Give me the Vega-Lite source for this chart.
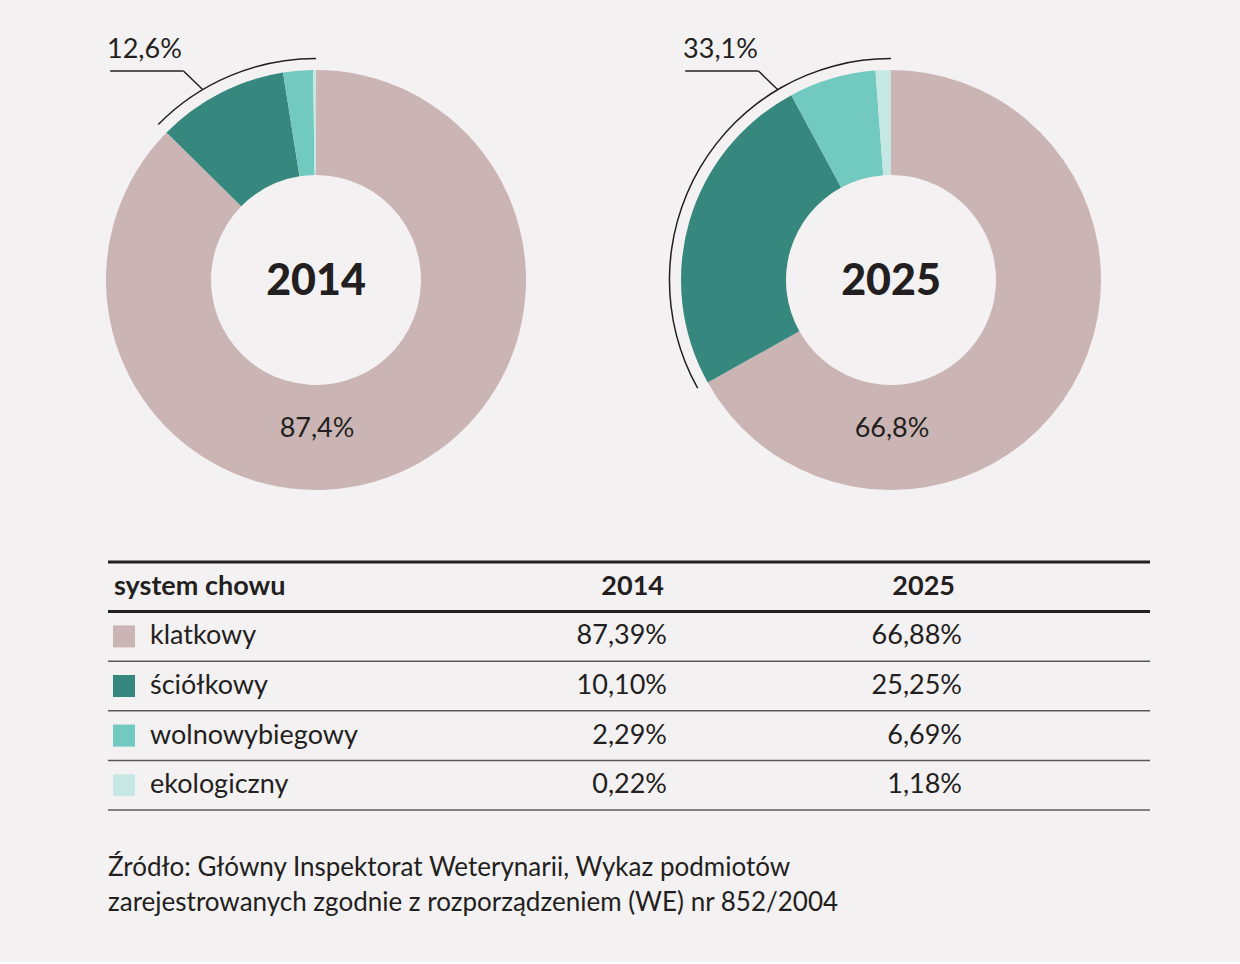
{
  "$schema": "https://vega.github.io/schema/vega-lite/v6.json",
  "background": "#f4f1f2",
  "padding": {"left": 106, "right": 90, "top": 0, "bottom": 46},
  "config": {
    "view": {"stroke": null},
    "font": "Lato",
    "text": {"font": "Lato", "color": "#231f20"},
    "title": {"font": "Lato"},
    "locale": {"number": {"decimal": ",", "thousands": " ", "grouping": [3], "currency": ["", " zł"]}}
  },
  "title": {
    "text": ["Źródło: Główny Inspektorat Weterynarii, Wykaz podmiotów", "zarejestrowanych zgodnie z rozporządzeniem (WE) nr 852/2004"],
    "orient": "bottom", "anchor": "start", "offset": 44, "fontSize": 26, "fontWeight": "normal",
    "color": "#231f20", "lineHeight": 35, "dx": 2
  },
  "datasets": {
    "shares": [
      {"system": "klatkowy", "year": "2014", "share": 0.8739},
      {"system": "ściółkowy", "year": "2014", "share": 0.1010},
      {"system": "wolnowybiegowy", "year": "2014", "share": 0.0229},
      {"system": "ekologiczny", "year": "2014", "share": 0.0022},
      {"system": "klatkowy", "year": "2025", "share": 0.6688},
      {"system": "ściółkowy", "year": "2025", "share": 0.2525},
      {"system": "wolnowybiegowy", "year": "2025", "share": 0.0669},
      {"system": "ekologiczny", "year": "2025", "share": 0.0118}
    ],
    "totals": [
      {"year": "2014", "group": "klatkowy", "share": 0.874},
      {"year": "2014", "group": "pozostałe", "share": 0.126},
      {"year": "2025", "group": "klatkowy", "share": 0.668},
      {"year": "2025", "group": "pozostałe", "share": 0.331}
    ],
    "headers": [
      {"row": "header", "column": "system", "text": "system chowu"},
      {"row": "header", "column": "2014", "text": "2014"},
      {"row": "header", "column": "2025", "text": "2025"}
    ]
  },
  "spacing": 0,
  "vconcat": [
    {
      "spacing": 108,
      "bounds": "flush",
      "hconcat": [
        {
          "width": 416, "height": 560,
          "layer": [
            {
              "data": {"name": "shares"},
              "transform": [
                {"filter": "datum.year === '2014'"},
                {"window": [{"op": "row_number", "as": "rank"}]},
                {"stack": "share", "groupby": ["year"], "sort": [{"field": "rank", "order": "ascending"}], "as": ["t0", "t1"]}
              ],
              "mark": {"type": "arc", "outerRadius": 210, "innerRadius": 105},
              "encoding": {
                "theta": {"field": "t0", "type": "quantitative", "stack": null, "scale": {"domain": [0, 1]}},
                "theta2": {"field": "t1"},
                "color": {"field": "system", "type": "nominal", "legend": null,
                  "scale": {"domain": ["klatkowy", "ściółkowy", "wolnowybiegowy", "ekologiczny"], "range": ["#cbb5b4", "#36887f", "#72c9bf", "#c6e8e4"]}}
              }
            },
            {
              "data": {"name": "shares"},
              "transform": [
                {"filter": "datum.year === '2014'"},
                {"window": [{"op": "row_number", "as": "rank"}]},
                {"stack": "share", "groupby": ["year"], "sort": [{"field": "rank", "order": "ascending"}], "as": ["t0", "t1"]},
                {"filter": "datum.system !== 'klatkowy'"},
                {"aggregate": [{"op": "min", "field": "t0", "as": "a0"}, {"op": "max", "field": "t1", "as": "a1"}], "groupby": ["year"]}
              ],
              "mark": {"type": "arc", "outerRadius": 222.3, "innerRadius": 220.8, "color": "#231f20"},
              "encoding": {
                "theta": {"field": "a0", "type": "quantitative", "stack": null, "scale": {"domain": [0, 1]}},
                "theta2": {"field": "a1"}
              }
            },
            {
              "data": {"name": "totals"},
              "transform": [{"filter": "datum.year === '2014' && datum.group === 'pozostałe'"}],
              "mark": {"type": "rule", "strokeWidth": 1.5, "color": "#231f20"},
              "encoding": {
                "x": {"datum": -1.96, "type": "quantitative", "scale": {"domain": [-1.981, 1.981], "nice": false}, "axis": null},
                "x2": {"datum": -1.262},
                "y": {"datum": 1.99, "type": "quantitative", "scale": {"domain": [-2.6667, 2.6667], "nice": false}, "axis": null},
                "y2": {"datum": 1.99}
              }
            },
            {
              "data": {"name": "totals"},
              "transform": [{"filter": "datum.year === '2014' && datum.group === 'pozostałe'"}],
              "mark": {"type": "rule", "strokeWidth": 1.5, "color": "#231f20"},
              "encoding": {
                "x": {"datum": -1.262, "type": "quantitative", "scale": {"domain": [-1.981, 1.981], "nice": false}, "axis": null},
                "x2": {"datum": -1.08},
                "y": {"datum": 1.99, "type": "quantitative", "scale": {"domain": [-2.6667, 2.6667], "nice": false}, "axis": null},
                "y2": {"datum": 1.815}
              }
            },
            {
              "data": {"name": "totals"},
              "transform": [{"filter": "datum.year === '2014' && datum.group === 'pozostałe'"}],
              "mark": {"type": "text", "align": "left", "baseline": "alphabetic", "fontSize": 27},
              "encoding": {
                "x": {"datum": -1.99, "type": "quantitative", "scale": {"domain": [-1.981, 1.981], "nice": false}, "axis": null},
                "y": {"datum": 2.114, "type": "quantitative", "scale": {"domain": [-2.6667, 2.6667], "nice": false}, "axis": null},
                "text": {"field": "share", "type": "quantitative", "format": ".1%"}
              }
            },
            {
              "data": {"name": "totals"},
              "transform": [{"filter": "datum.year === '2014' && datum.group === 'klatkowy'"}],
              "mark": {"type": "text", "align": "center", "baseline": "alphabetic", "fontSize": 27},
              "encoding": {
                "x": {"datum": 0.01, "type": "quantitative", "scale": {"domain": [-1.981, 1.981], "nice": false}, "axis": null},
                "y": {"datum": -1.495, "type": "quantitative", "scale": {"domain": [-2.6667, 2.6667], "nice": false}, "axis": null},
                "text": {"field": "share", "type": "quantitative", "format": ".1%"}
              }
            },
            {
              "data": {"name": "totals"},
              "transform": [{"filter": "datum.year === '2014' && datum.group === 'klatkowy'"}],
              "mark": {"type": "text", "align": "center", "baseline": "alphabetic", "fontSize": 43, "fontWeight": 900},
              "encoding": {
                "x": {"datum": 0, "type": "quantitative", "scale": {"domain": [-1.981, 1.981], "nice": false}, "axis": null},
                "y": {"datum": -0.14, "type": "quantitative", "scale": {"domain": [-2.6667, 2.6667], "nice": false}, "axis": null},
                "text": {"field": "year", "type": "nominal"}
              }
            }
          ]
        },
        {
          "width": 518, "height": 560,
          "layer": [
            {
              "data": {"name": "shares"},
              "transform": [
                {"filter": "datum.year === '2025'"},
                {"window": [{"op": "row_number", "as": "rank"}]},
                {"stack": "share", "groupby": ["year"], "sort": [{"field": "rank", "order": "ascending"}], "as": ["t0", "t1"]}
              ],
              "mark": {"type": "arc", "outerRadius": 210, "innerRadius": 105},
              "encoding": {
                "theta": {"field": "t0", "type": "quantitative", "stack": null, "scale": {"domain": [0, 1]}},
                "theta2": {"field": "t1"},
                "color": {"field": "system", "type": "nominal", "legend": null,
                  "scale": {"domain": ["klatkowy", "ściółkowy", "wolnowybiegowy", "ekologiczny"], "range": ["#cbb5b4", "#36887f", "#72c9bf", "#c6e8e4"]}}
              }
            },
            {
              "data": {"name": "shares"},
              "transform": [
                {"filter": "datum.year === '2025'"},
                {"window": [{"op": "row_number", "as": "rank"}]},
                {"stack": "share", "groupby": ["year"], "sort": [{"field": "rank", "order": "ascending"}], "as": ["t0", "t1"]},
                {"filter": "datum.system !== 'klatkowy'"},
                {"aggregate": [{"op": "min", "field": "t0", "as": "a0"}, {"op": "max", "field": "t1", "as": "a1"}], "groupby": ["year"]}
              ],
              "mark": {"type": "arc", "outerRadius": 222.3, "innerRadius": 220.8, "color": "#231f20"},
              "encoding": {
                "theta": {"field": "a0", "type": "quantitative", "stack": null, "scale": {"domain": [0, 1]}},
                "theta2": {"field": "a1"}
              }
            },
            {
              "data": {"name": "totals"},
              "transform": [{"filter": "datum.year === '2025' && datum.group === 'pozostałe'"}],
              "mark": {"type": "rule", "strokeWidth": 1.5, "color": "#231f20"},
              "encoding": {
                "x": {"datum": -1.96, "type": "quantitative", "scale": {"domain": [-2.4667, 2.4667], "nice": false}, "axis": null},
                "x2": {"datum": -1.262},
                "y": {"datum": 1.99, "type": "quantitative", "scale": {"domain": [-2.6667, 2.6667], "nice": false}, "axis": null},
                "y2": {"datum": 1.99}
              }
            },
            {
              "data": {"name": "totals"},
              "transform": [{"filter": "datum.year === '2025' && datum.group === 'pozostałe'"}],
              "mark": {"type": "rule", "strokeWidth": 1.5, "color": "#231f20"},
              "encoding": {
                "x": {"datum": -1.262, "type": "quantitative", "scale": {"domain": [-2.4667, 2.4667], "nice": false}, "axis": null},
                "x2": {"datum": -1.08},
                "y": {"datum": 1.99, "type": "quantitative", "scale": {"domain": [-2.6667, 2.6667], "nice": false}, "axis": null},
                "y2": {"datum": 1.815}
              }
            },
            {
              "data": {"name": "totals"},
              "transform": [{"filter": "datum.year === '2025' && datum.group === 'pozostałe'"}],
              "mark": {"type": "text", "align": "left", "baseline": "alphabetic", "fontSize": 27},
              "encoding": {
                "x": {"datum": -1.98, "type": "quantitative", "scale": {"domain": [-2.4667, 2.4667], "nice": false}, "axis": null},
                "y": {"datum": 2.114, "type": "quantitative", "scale": {"domain": [-2.6667, 2.6667], "nice": false}, "axis": null},
                "text": {"field": "share", "type": "quantitative", "format": ".1%"}
              }
            },
            {
              "data": {"name": "totals"},
              "transform": [{"filter": "datum.year === '2025' && datum.group === 'klatkowy'"}],
              "mark": {"type": "text", "align": "center", "baseline": "alphabetic", "fontSize": 27},
              "encoding": {
                "x": {"datum": 0.01, "type": "quantitative", "scale": {"domain": [-2.4667, 2.4667], "nice": false}, "axis": null},
                "y": {"datum": -1.495, "type": "quantitative", "scale": {"domain": [-2.6667, 2.6667], "nice": false}, "axis": null},
                "text": {"field": "share", "type": "quantitative", "format": ".1%"}
              }
            },
            {
              "data": {"name": "totals"},
              "transform": [{"filter": "datum.year === '2025' && datum.group === 'klatkowy'"}],
              "mark": {"type": "text", "align": "center", "baseline": "alphabetic", "fontSize": 43, "fontWeight": 900},
              "encoding": {
                "x": {"datum": 0, "type": "quantitative", "scale": {"domain": [-2.4667, 2.4667], "nice": false}, "axis": null},
                "y": {"datum": -0.14, "type": "quantitative", "scale": {"domain": [-2.6667, 2.6667], "nice": false}, "axis": null},
                "text": {"field": "year", "type": "nominal"}
              }
            }
          ]
        }
      ]
    },
    {
      "spacing": 0,
      "bounds": "flush",
      "hconcat": [
        {
          "width": 42, "height": 248,
          "layer": [
            {"data": {"name": "headers"}, "transform": [{"filter": "datum.column === 'system'"}],
             "mark": {"type": "rule", "strokeWidth": 3, "color": "#231f20"},
             "encoding": {"y": {"field": "row", "type": "nominal", "bandPosition": 0, "axis": null, "scale": {"domain": ["header", "klatkowy", "ściółkowy", "wolnowybiegowy", "ekologiczny"], "paddingInner": 0, "paddingOuter": 0}}}},
            {"data": {"name": "headers"}, "transform": [{"filter": "datum.column === 'system'"}],
             "mark": {"type": "rule", "strokeWidth": 3, "color": "#231f20"},
             "encoding": {"y": {"field": "row", "type": "nominal", "bandPosition": 1, "axis": null, "scale": {"domain": ["header", "klatkowy", "ściółkowy", "wolnowybiegowy", "ekologiczny"], "paddingInner": 0, "paddingOuter": 0}}}},
            {"data": {"name": "shares"}, "transform": [{"filter": "datum.year === '2014'"}],
             "mark": {"type": "rule", "strokeWidth": 1.5, "color": "#5b5859"},
             "encoding": {"y": {"field": "system", "type": "nominal", "bandPosition": 1, "axis": null, "scale": {"domain": ["header", "klatkowy", "ściółkowy", "wolnowybiegowy", "ekologiczny"], "paddingInner": 0, "paddingOuter": 0}}}},
            {"data": {"name": "shares"}, "transform": [{"filter": "datum.year === '2014'"}],
             "mark": {"type": "square", "size": 484, "filled": true, "opacity": 1, "xOffset": -5},
             "encoding": {
               "y": {"field": "system", "type": "nominal", "axis": null, "scale": {"domain": ["header", "klatkowy", "ściółkowy", "wolnowybiegowy", "ekologiczny"], "paddingInner": 0, "paddingOuter": 0}},
               "color": {"field": "system", "type": "nominal", "legend": null,
                 "scale": {"domain": ["klatkowy", "ściółkowy", "wolnowybiegowy", "ekologiczny"], "range": ["#cbb5b4", "#36887f", "#72c9bf", "#c6e8e4"]}}
             }},
            {"data": {"name": "shares"}, "transform": [{"filter": "datum.year === '2014'"}],
             "mark": {"type": "text", "align": "left", "x": "width", "dx": 0, "fontSize": 27},
             "encoding": {
               "y": {"field": "system", "type": "nominal", "axis": null, "scale": {"domain": ["header", "klatkowy", "ściółkowy", "wolnowybiegowy", "ekologiczny"], "paddingInner": 0, "paddingOuter": 0}},
               "text": {"field": "system", "type": "nominal"}
             }},
            {"data": {"name": "headers"}, "transform": [{"filter": "datum.column === 'system'"}],
             "mark": {"type": "text", "align": "left", "dx": -15, "fontSize": 27, "fontWeight": "bold"},
             "encoding": {
               "y": {"field": "row", "type": "nominal", "axis": null, "scale": {"domain": ["header", "klatkowy", "ściółkowy", "wolnowybiegowy", "ekologiczny"], "paddingInner": 0, "paddingOuter": 0}},
               "text": {"field": "text", "type": "nominal"}
             }}
          ]
        },
        {
          "width": 517, "height": 248,
          "layer": [
            {"data": {"name": "headers"}, "transform": [{"filter": "datum.column === '2014'"}],
             "mark": {"type": "rule", "strokeWidth": 3, "color": "#231f20"},
             "encoding": {"y": {"field": "row", "type": "nominal", "bandPosition": 0, "axis": null, "scale": {"domain": ["header", "klatkowy", "ściółkowy", "wolnowybiegowy", "ekologiczny"], "paddingInner": 0, "paddingOuter": 0}}}},
            {"data": {"name": "headers"}, "transform": [{"filter": "datum.column === '2014'"}],
             "mark": {"type": "rule", "strokeWidth": 3, "color": "#231f20"},
             "encoding": {"y": {"field": "row", "type": "nominal", "bandPosition": 1, "axis": null, "scale": {"domain": ["header", "klatkowy", "ściółkowy", "wolnowybiegowy", "ekologiczny"], "paddingInner": 0, "paddingOuter": 0}}}},
            {"data": {"name": "shares"}, "transform": [{"filter": "datum.year === '2014'"}],
             "mark": {"type": "rule", "strokeWidth": 1.5, "color": "#5b5859"},
             "encoding": {"y": {"field": "system", "type": "nominal", "bandPosition": 1, "axis": null, "scale": {"domain": ["header", "klatkowy", "ściółkowy", "wolnowybiegowy", "ekologiczny"], "paddingInner": 0, "paddingOuter": 0}}}},
            {"data": {"name": "shares"}, "transform": [{"filter": "datum.year === '2014'"}],
             "mark": {"type": "text", "align": "right", "x": "width", "fontSize": 27},
             "encoding": {
               "y": {"field": "system", "type": "nominal", "axis": null, "scale": {"domain": ["header", "klatkowy", "ściółkowy", "wolnowybiegowy", "ekologiczny"], "paddingInner": 0, "paddingOuter": 0}},
               "text": {"field": "share", "type": "quantitative", "format": ".2%"}
             }},
            {"data": {"name": "headers"}, "transform": [{"filter": "datum.column === '2014'"}],
             "mark": {"type": "text", "align": "right", "x": "width", "dx": -3, "fontSize": 27, "fontWeight": "bold"},
             "encoding": {
               "y": {"field": "row", "type": "nominal", "axis": null, "scale": {"domain": ["header", "klatkowy", "ściółkowy", "wolnowybiegowy", "ekologiczny"], "paddingInner": 0, "paddingOuter": 0}},
               "text": {"field": "text", "type": "nominal"}
             }}
          ]
        },
        {
          "width": 295, "height": 248,
          "layer": [
            {"data": {"name": "headers"}, "transform": [{"filter": "datum.column === '2025'"}],
             "mark": {"type": "rule", "strokeWidth": 3, "color": "#231f20"},
             "encoding": {"y": {"field": "row", "type": "nominal", "bandPosition": 0, "axis": null, "scale": {"domain": ["header", "klatkowy", "ściółkowy", "wolnowybiegowy", "ekologiczny"], "paddingInner": 0, "paddingOuter": 0}}}},
            {"data": {"name": "headers"}, "transform": [{"filter": "datum.column === '2025'"}],
             "mark": {"type": "rule", "strokeWidth": 3, "color": "#231f20"},
             "encoding": {"y": {"field": "row", "type": "nominal", "bandPosition": 1, "axis": null, "scale": {"domain": ["header", "klatkowy", "ściółkowy", "wolnowybiegowy", "ekologiczny"], "paddingInner": 0, "paddingOuter": 0}}}},
            {"data": {"name": "shares"}, "transform": [{"filter": "datum.year === '2025'"}],
             "mark": {"type": "rule", "strokeWidth": 1.5, "color": "#5b5859"},
             "encoding": {"y": {"field": "system", "type": "nominal", "bandPosition": 1, "axis": null, "scale": {"domain": ["header", "klatkowy", "ściółkowy", "wolnowybiegowy", "ekologiczny"], "paddingInner": 0, "paddingOuter": 0}}}},
            {"data": {"name": "shares"}, "transform": [{"filter": "datum.year === '2025'"}],
             "mark": {"type": "text", "align": "right", "x": "width", "fontSize": 27},
             "encoding": {
               "y": {"field": "system", "type": "nominal", "axis": null, "scale": {"domain": ["header", "klatkowy", "ściółkowy", "wolnowybiegowy", "ekologiczny"], "paddingInner": 0, "paddingOuter": 0}},
               "text": {"field": "share", "type": "quantitative", "format": ".2%"}
             }},
            {"data": {"name": "headers"}, "transform": [{"filter": "datum.column === '2025'"}],
             "mark": {"type": "text", "align": "right", "x": "width", "dx": -7, "fontSize": 27, "fontWeight": "bold"},
             "encoding": {
               "y": {"field": "row", "type": "nominal", "axis": null, "scale": {"domain": ["header", "klatkowy", "ściółkowy", "wolnowybiegowy", "ekologiczny"], "paddingInner": 0, "paddingOuter": 0}},
               "text": {"field": "text", "type": "nominal"}
             }}
          ]
        },
        {
          "width": 188, "height": 248,
          "layer": [
            {"data": {"name": "headers"}, "transform": [{"filter": "datum.column === 'system'"}],
             "mark": {"type": "rule", "strokeWidth": 3, "color": "#231f20"},
             "encoding": {"y": {"field": "row", "type": "nominal", "bandPosition": 0, "axis": null, "scale": {"domain": ["header", "klatkowy", "ściółkowy", "wolnowybiegowy", "ekologiczny"], "paddingInner": 0, "paddingOuter": 0}}}},
            {"data": {"name": "headers"}, "transform": [{"filter": "datum.column === 'system'"}],
             "mark": {"type": "rule", "strokeWidth": 3, "color": "#231f20"},
             "encoding": {"y": {"field": "row", "type": "nominal", "bandPosition": 1, "axis": null, "scale": {"domain": ["header", "klatkowy", "ściółkowy", "wolnowybiegowy", "ekologiczny"], "paddingInner": 0, "paddingOuter": 0}}}},
            {"data": {"name": "shares"}, "transform": [{"filter": "datum.year === '2014'"}],
             "mark": {"type": "rule", "strokeWidth": 1.5, "color": "#5b5859"},
             "encoding": {"y": {"field": "system", "type": "nominal", "bandPosition": 1, "axis": null, "scale": {"domain": ["header", "klatkowy", "ściółkowy", "wolnowybiegowy", "ekologiczny"], "paddingInner": 0, "paddingOuter": 0}}}}
          ]
        }
      ]
    }
  ]
}
